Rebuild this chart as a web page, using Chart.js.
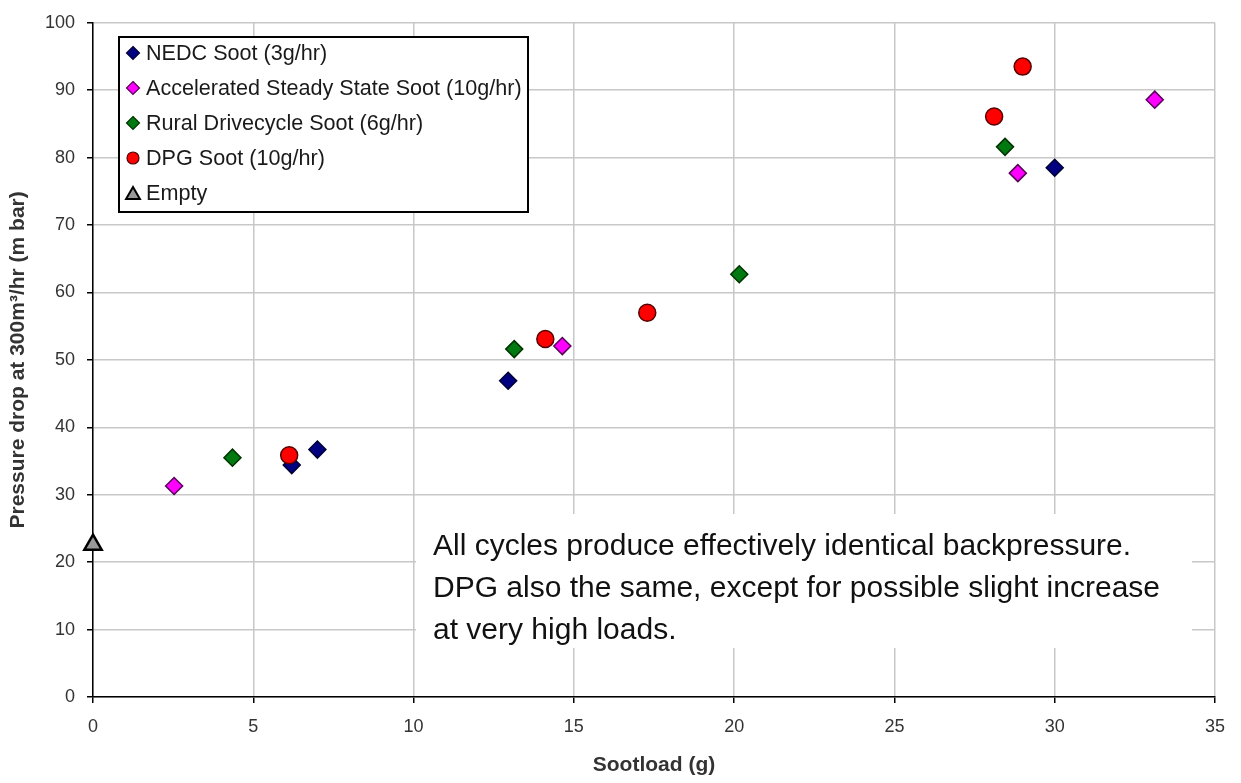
<!DOCTYPE html>
<html>
<head>
<meta charset="utf-8">
<script src="https://cdn.jsdelivr.net/npm/chart.js@4/dist/chart.umd.min.js"></script>
<style>
  html, body { margin: 0; padding: 0; background: #ffffff; }
  #wrap { width: 1241px; height: 783px; position: relative; }
</style>
</head>
<body>
<div id="wrap"><canvas id="c" width="1241" height="783"></canvas></div>
<script>
// ---- Data ----
const seriesLabels = [
  'NEDC Soot (3g/hr)',
  'Accelerated Steady State Soot (10g/hr)',
  'Rural Drivecycle Soot (6g/hr)',
  'DPG Soot (10g/hr)',
  'Empty'
];
const nedcX = [6.2, 7.0, 12.95, 30.0];
const nedcY = [34.4, 36.7, 46.9, 78.5];
const accelX = [2.53, 14.64, 28.85, 33.12];
const accelY = [31.3, 52.05, 77.7, 88.6];
const ruralX = [4.35, 13.14, 20.16, 28.45];
const ruralY = [35.5, 51.6, 62.7, 81.6];
const dpgX = [6.12, 14.11, 17.29, 28.11, 29.0];
const dpgY = [35.85, 53.1, 57.0, 86.1, 93.5];
const emptyX = [0];
const emptyY = [22.6];
const xTicks = [0, 5, 10, 15, 20, 25, 30, 35];
const yTicks = [0, 10, 20, 30, 40, 50, 60, 70, 80, 90, 100];
const xTitle = 'Sootload (g)';
const yTitle = 'Pressure drop at 300m\u00B3/hr (m bar)';
const noteLines = [
  'All cycles produce effectively identical backpressure.',
  'DPG also the same, except for possible slight increase',
  'at very high loads.'
];

// ---- Styles ----
const FONT = "'Liberation Sans', Arial, sans-serif";
const styles = [
  { bg: '#000080', border: '#000033', shape: 'rectRot', r: 8.5 },
  { bg: '#FF00FF', border: '#550055', shape: 'rectRot', r: 8.5 },
  { bg: '#007A10', border: '#003300', shape: 'rectRot', r: 8.5 },
  { bg: '#FF0000', border: '#550000', shape: 'circle', r: 8.5 },
  { bg: '#999999', border: '#000000', shape: 'triangle', r: 10 }
];

function zip(xs, ys) { return xs.map((x, i) => ({ x: x, y: ys[i] })); }
const seriesXY = [[nedcX, nedcY], [accelX, accelY], [ruralX, ruralY], [dpgX, dpgY], [emptyX, emptyY]];

const datasets = seriesXY.map((s, i) => ({
  label: seriesLabels[i],
  data: zip(s[0], s[1]),
  pointStyle: styles[i].shape,
  pointRadius: styles[i].r,
  pointHoverRadius: styles[i].r,
  pointBackgroundColor: styles[i].bg,
  pointBorderColor: styles[i].border,
  pointBorderWidth: i === 4 ? 2.5 : 1.5,
  showLine: false,
  clip: false,
  order: 10 - i
}));

function drawMarker(ctx, shape, x, y, r, fill, stroke, lw) {
  ctx.save();
  ctx.beginPath();
  if (shape === 'circle') {
    ctx.arc(x, y, r, 0, Math.PI * 2);
  } else if (shape === 'rectRot') {
    ctx.moveTo(x, y - r); ctx.lineTo(x + r, y); ctx.lineTo(x, y + r); ctx.lineTo(x - r, y);
    ctx.closePath();
  } else if (shape === 'triangle') {
    ctx.moveTo(x, y - r);
    ctx.lineTo(x + r * 0.866, y + r * 0.5);
    ctx.lineTo(x - r * 0.866, y + r * 0.5);
    ctx.closePath();
  }
  ctx.fillStyle = fill; ctx.fill();
  ctx.lineWidth = lw; ctx.strokeStyle = stroke; ctx.stroke();
  ctx.restore();
}

const overlayPlugin = {
  id: 'overlay',
  beforeDatasetsDraw(chart) {
    const ctx = chart.ctx;
    // annotation box
    ctx.save();
    ctx.fillStyle = '#ffffff';
    ctx.fillRect(416, 514, 776, 134);
    ctx.fillStyle = '#111111';
    ctx.font = '30px ' + FONT;
    ctx.textBaseline = 'middle';
    ctx.textAlign = 'left';
    noteLines.forEach((t, i) => ctx.fillText(t, 433, 547 + i * 42));
    ctx.restore();

    // legend box
    ctx.save();
    ctx.fillStyle = '#ffffff';
    ctx.fillRect(119, 37, 409, 175);
    ctx.lineWidth = 2;
    ctx.strokeStyle = '#000000';
    ctx.strokeRect(119, 37, 409, 175);
    ctx.font = '21.6px ' + FONT;
    ctx.textBaseline = 'middle';
    ctx.fillStyle = '#1a1a1a';
    chart.data.datasets.forEach((ds, i) => {
      const y = 53 + i * 35;
      const st = styles[i];
      const r = st.shape === 'triangle' ? 8 : (st.shape === 'circle' ? 6 : 6.5);
      drawMarker(ctx, st.shape, 133, st.shape === 'triangle' ? y + 2 : y, r, st.bg, st.border, st.shape === 'triangle' ? 2 : 1.2);
      ctx.fillText(ds.label, 146, y + 1);
    });
    ctx.restore();
  }
};

const ctx = document.getElementById('c').getContext('2d');
new Chart(ctx, {
  type: 'scatter',
  data: { datasets: datasets },
  options: {
    responsive: false,
    animation: false,
    devicePixelRatio: 1,
    layout: { padding: { top: 22, right: 26, left: 0, bottom: 0 } },
    plugins: { legend: { display: false }, tooltip: { enabled: false } },
    scales: {
      x: {
        type: 'linear',
        min: xTicks[0], max: xTicks[xTicks.length - 1],
        afterBuildTicks: s => { s.ticks = xTicks.map(v => ({ value: v })); },
        afterFit: s => { s.height = 86; },
        grid: { color: '#c8c8c8', lineWidth: 1.5, tickColor: '#000000', tickLength: 6, tickWidth: 1.5, drawTicks: true },
        border: { display: true, color: '#000000', width: 1.5 },
        ticks: { color: '#333333', font: { family: FONT, size: 18 }, padding: 13, maxRotation: 0 },
        title: { display: true, text: xTitle, color: '#333333', font: { family: FONT, size: 21, weight: 'bold' }, padding: { top: 0, bottom: 5 } }
      },
      y: {
        type: 'linear',
        min: yTicks[0], max: yTicks[yTicks.length - 1],
        afterBuildTicks: s => { s.ticks = yTicks.map(v => ({ value: v })); },
        afterFit: s => { s.width = 93; },
        grid: { color: '#c8c8c8', lineWidth: 1.5, tickColor: '#000000', tickLength: 6, tickWidth: 1.5, drawTicks: true },
        border: { display: true, color: '#000000', width: 1.5 },
        ticks: { color: '#333333', font: { family: FONT, size: 18 }, padding: 12 },
        title: { display: true, text: yTitle, color: '#333333', font: { family: FONT, size: 21, weight: 'bold' }, padding: { top: 6, bottom: 0 } }
      }
    }
  },
  plugins: [overlayPlugin]
});
</script>
</body>
</html>
